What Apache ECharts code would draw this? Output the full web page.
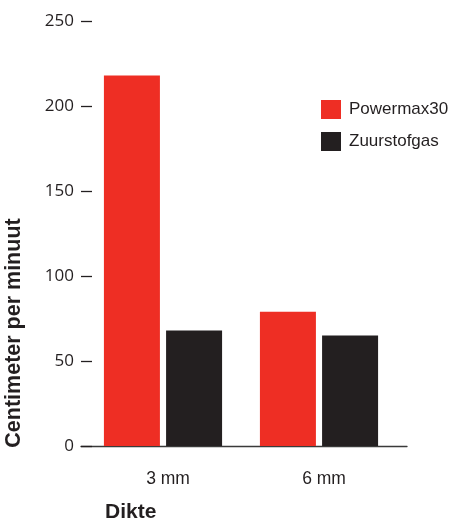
<!DOCTYPE html>
<html>
<head>
<meta charset="utf-8">
<script src="https://cdn.jsdelivr.net/npm/echarts@6/dist/echarts.min.js"></script>
<style>html,body{margin:0;padding:0;background:#fff}#c{width:451px;height:522px}</style>
</head>
<body>
<div id="c"></div>
<script>
var categories = ['3 mm', '6 mm'];
var powermax30 = [218, 79];
var zuurstofgas = [68, 65];
var seriesNames = ['Powermax30', 'Zuurstofgas'];
var yTitle = 'Centimeter per minuut';
var xTitle = 'Dikte';

var dark = '#231f20';
var chart = echarts.init(document.getElementById('c'));
chart.setOption({
  animation: false,
  backgroundColor: '#fff',
  grid: [
    {left: 85, right: 54, top: 21, bottom: 76},
    {left: 81, right: 44, top: 21, bottom: 76}
  ],
  legend: {
    orient: 'vertical', left: 316, top: 95, itemWidth: 20, itemHeight: 19, itemGap: 13,
    icon: 'rect', data: seriesNames,
    textStyle: {fontFamily: 'Liberation Sans', fontSize: 17, color: dark, padding: [0, 0, 0, 3]}
  },
  xAxis: [
    {gridIndex: 0, type: 'category', data: categories,
     axisLine: {show: false}, axisTick: {show: false},
     axisLabel: {margin: 24, fontFamily: 'Liberation Sans', fontSize: 17.5, color: dark, padding: [0, 0, 0, 10]}},
    {gridIndex: 1, type: 'category', data: ['', ''],
     axisLine: {show: true, lineStyle: {color: '#3a3a3a', width: 1.3}},
     axisTick: {show: false}, axisLabel: {show: false}}
  ],
  yAxis: [
    {gridIndex: 0, type: 'value', min: 0, max: 250, interval: 50, show: false},
    {gridIndex: 1, type: 'value', min: 0, max: 250, interval: 50,
     axisLine: {show: false}, splitLine: {show: false},
     axisTick: {show: true, inside: true, length: 11, lineStyle: {color: dark, width: 1.3}},
     axisLabel: {margin: 7, fontFamily: 'Open Sans', fontSize: 17, color: dark}}
  ],
  series: [
    {name: seriesNames[0], type: 'bar', xAxisIndex: 0, yAxisIndex: 0, data: powermax30,
     barWidth: 56, barGap: '11%', itemStyle: {color: '#ee2e24'}},
    {name: seriesNames[1], type: 'bar', xAxisIndex: 0, yAxisIndex: 0, data: zuurstofgas,
     barWidth: 56, barGap: '11%', itemStyle: {color: dark}}
  ],
  graphic: [
    {type: 'text', x: 14, y: 333, rotation: Math.PI / 2,
     style: {text: yTitle, fill: dark, font: 'bold 21.5px "Liberation Sans"', textAlign: 'center', textVerticalAlign: 'middle'}},
    {type: 'text', x: 105, y: 512,
     style: {text: xTitle, fill: dark, font: 'bold 21px "Liberation Sans"', textAlign: 'left', textVerticalAlign: 'middle'}}
  ]
});
</script>
</body>
</html>
